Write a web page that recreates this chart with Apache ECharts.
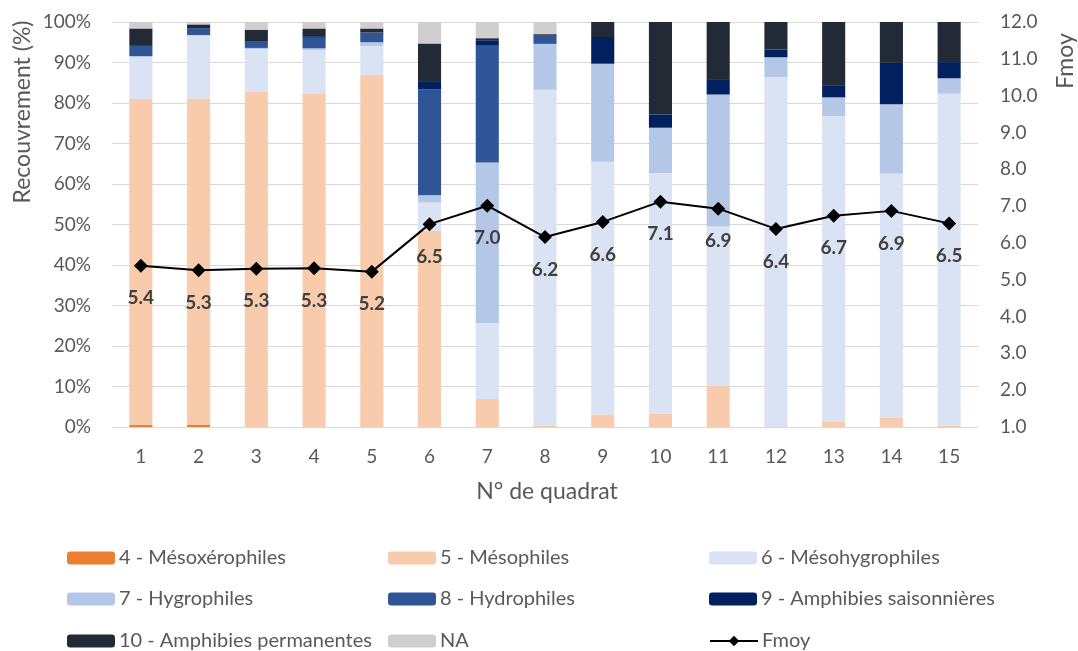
<!DOCTYPE html>
<html>
<head>
<meta charset="utf-8">
<script src="https://cdn.jsdelivr.net/npm/echarts@6/dist/echarts.min.js"></script>
<style>html,body{margin:0;padding:0;background:#fff;}#c{width:1078px;height:651px;}</style>
</head>
<body>
<div id="c"></div>
<script>
const categories = ['1','2','3','4','5','6','7','8','9','10','11','12','13','14','15'];
const mesoxero = [0.5,0.5,0,0,0,0,0,0,0,0,0,0,0,0,0];
const meso = [80.5,80.6,82.9,82.4,86.9,48.5,6.9,0.4,3.1,3.3,10.1,0,1.4,2.3,0.3];
const mesohygro = [10.3,15.5,10.4,10.7,7.2,6.9,18.7,82.9,62.4,59.4,39.4,86.4,75.4,60.3,82.0];
const hygro = [0.3,0.2,0.3,0.4,0.9,1.8,39.7,11.3,24.2,11.2,32.6,4.9,4.6,17.1,3.8];
const hydro = [2.5,1.7,1.7,2.6,2.4,26.1,29.0,2.2,0,0,0,0,0,0,0];
const amphSaison = [0,0,0,0.4,0,2.1,1.2,0,6.6,3.3,3.8,1.9,3.0,10.2,4.0];
const amphPerm = [4.3,0.9,2.8,1.9,1.0,9.3,0.5,0.2,3.7,22.8,14.1,6.8,15.6,10.1,9.9];
const na = [1.6,0.6,1.9,1.6,1.6,5.3,4.0,3.0,0,0,0,0,0,0,0];
const fmoy = [5.38,5.26,5.30,5.31,5.22,6.51,7.01,6.16,6.57,7.12,6.93,6.38,6.74,6.87,6.53];
const leftTicks = {min:0, max:100, interval:10};
const rightTicks = {min:1, max:12, interval:1};

const FONT = 'Lato';
const barNames = ['4 - Mésoxérophiles','5 - Mésophiles','6 - Mésohygrophiles','7 - Hygrophiles','8 - Hydrophiles','9 - Amphibies saisonnières','10 - Amphibies permanentes','NA'];
const barData = [mesoxero, meso, mesohygro, hygro, hydro, amphSaison, amphPerm, na];
const colors = ['#ED7D31','#F8CBAD','#DAE3F3','#B4C7E7','#2F5597','#002060','#222A35','#D0CECE'];

const series = barNames.map((n,i)=>({
  name:n, type:'bar', stack:'s', data:barData[i], barWidth:'40%',
  itemStyle:{color:colors[i]}, emphasis:{disabled:true}
}));
series.push({
  name:'Fmoy', type:'line', yAxisIndex:1, data:fmoy,
  symbol:'diamond', symbolSize:14, lineStyle:{color:'#000', width:2},
  itemStyle:{color:'#000'},
  label:{show:true, position:'bottom', distance:16, fontFamily:FONT, fontWeight:'bold', fontSize:19, color:'#404040',
    formatter:p=>p.value.toFixed(1)},
  z:5
});

const legendPos = [
  [67,548],[388,548],[709,548],
  [67,589],[388,589],[709,589],
  [67,631],[388,631],[709,631]
];
const allNames = barNames.concat(['Fmoy']);
const legends = allNames.map((n,i)=>({
  data:[n], left:legendPos[i][0], top:legendPos[i][1], itemWidth:48, itemHeight:13, padding:0,
  selectedMode:false,
  textStyle:{fontFamily:FONT, fontSize:20, lineHeight:20, color:'#595959', padding:[0,0,0,-1]}
}));

const chart = echarts.init(document.getElementById('c'));
chart.setOption({
  animation:false,
  grid:{left:112, right:100, top:22, bottom:224},
  legend:legends,
  xAxis:{type:'category', data:categories,
    axisLine:{lineStyle:{color:'#d9d9d9'}}, axisTick:{show:false},
    axisLabel:{fontFamily:FONT, fontSize:19, color:'#595959', margin:20}},
  yAxis:[
    {type:'value', min:leftTicks.min, max:leftTicks.max, interval:leftTicks.interval,
      axisLabel:{formatter:'{value}%', fontFamily:FONT, fontSize:19, color:'#595959', margin:21},
      splitLine:{lineStyle:{color:'#d9d9d9'}}, axisLine:{show:false}, axisTick:{show:false}},
    {type:'value', min:rightTicks.min, max:rightTicks.max, interval:rightTicks.interval,
      axisLabel:{formatter:v=>v.toFixed(1), fontFamily:FONT, fontSize:19, color:'#595959', margin:22},
      splitLine:{show:false}, axisLine:{show:false}, axisTick:{show:false}}
  ],
  graphic:[
    {type:'text', x:23, y:112, rotation:Math.PI/2,
      style:{text:'Recouvrement (%)', font:'23px '+FONT, fill:'#595959', align:'center', verticalAlign:'middle'}},
    {type:'text', x:1066, y:61, rotation:Math.PI/2,
      style:{text:'Fmoy', font:'23px '+FONT, fill:'#595959', align:'center', verticalAlign:'middle'}},
    {type:'text', x:547, y:492,
      style:{text:'N° de quadrat', font:'23px '+FONT, fill:'#595959', align:'center', verticalAlign:'middle'}}
  ],
  series:series
});
</script>
</body>
</html>
